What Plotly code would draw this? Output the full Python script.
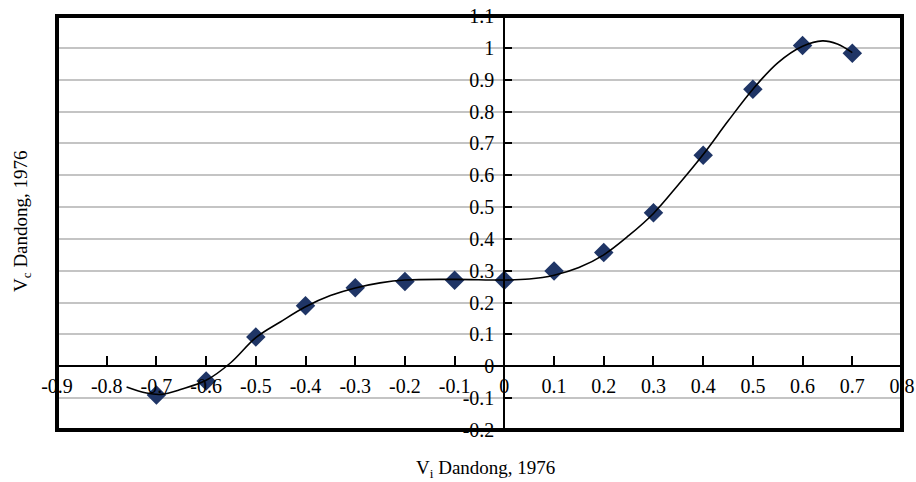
import plotly.graph_objects as go

# Measured points
point_x = [-0.7, -0.6, -0.5, -0.4, -0.3, -0.2, -0.1, 0.0, 0.1, 0.2, 0.3, 0.4, 0.5, 0.6, 0.7]
point_y = [-0.09, -0.046, 0.092, 0.19, 0.247, 0.266, 0.27, 0.27, 0.299, 0.357, 0.482, 0.663, 0.87, 1.007, 0.983]

# Trend curve
curve_x = [-0.76, -0.72, -0.69, -0.65, -0.60, -0.55, -0.50, -0.45, -0.40, -0.35, -0.30, -0.25, -0.20,
           -0.10, 0.00, 0.05, 0.10, 0.15, 0.20, 0.25, 0.30, 0.35, 0.40, 0.45, 0.50, 0.55, 0.60, 0.64, 0.67, 0.70]
curve_y = [-0.065, -0.084, -0.088, -0.072, -0.044, 0.012, 0.09, 0.14, 0.187, 0.222, 0.246, 0.262, 0.271,
           0.273, 0.271, 0.274, 0.286, 0.31, 0.35, 0.41, 0.48, 0.57, 0.665, 0.77, 0.87, 0.953, 1.005, 1.022, 1.012, 0.985]

x_tickvals = [-0.9, -0.8, -0.7, -0.6, -0.5, -0.4, -0.3, -0.2, -0.1, 0, 0.1, 0.2, 0.3, 0.4, 0.5, 0.6, 0.7, 0.8]
x_ticktext = ["-0.9", "-0.8", "-0.7", "-0.6", "-0.5", "-0.4", "-0.3", "-0.2", "-0.1", "0",
              "0.1", "0.2", "0.3", "0.4", "0.5", "0.6", "0.7", "0.8"]
y_tickvals = [-0.2, -0.1, 0, 0.1, 0.2, 0.3, 0.4, 0.5, 0.6, 0.7, 0.8, 0.9, 1.0, 1.1]
y_ticktext = ["-0.2", "-0.1", "0", "0.1", "0.2", "0.3", "0.4", "0.5", "0.6", "0.7", "0.8", "0.9", "1", "1.1"]

x_range = [-0.9, 0.8]
y_range = [-0.2, 1.1]

FONT = "Liberation Serif"

fig = go.Figure()
fig.add_trace(go.Scatter(
    x=point_x, y=point_y, mode="markers",
    marker=dict(symbol="diamond", size=15, color="#1f3566"),
    showlegend=False, hoverinfo="skip"))
fig.add_trace(go.Scatter(
    x=curve_x, y=curve_y, mode="lines",
    line=dict(color="black", width=1.6, shape="spline", smoothing=1.0),
    showlegend=False, hoverinfo="skip"))

fig.update_layout(
    width=916, height=482,
    margin=dict(l=57, r=14, t=16, b=52, autoexpand=False),
    paper_bgcolor="white", plot_bgcolor="white",
    font=dict(family=FONT, size=20, color="black"),
    xaxis=dict(
        range=x_range, domain=[0, 1], anchor="free", automargin=False,
        position=(0 - y_range[0]) / (y_range[1] - y_range[0]),
        tickvals=x_tickvals, ticktext=x_ticktext,
        showgrid=False, zeroline=False,
        showline=True, linecolor="black", linewidth=2,
        ticks="inside", ticklen=9, tickwidth=1.5, tickcolor="black",
        ticklabelstandoff=2,
        tickfont=dict(family=FONT, size=20),
    ),
    yaxis=dict(
        range=y_range, domain=[0, 1], anchor="free", automargin=False,
        position=(0 - x_range[0]) / (x_range[1] - x_range[0]),
        tickvals=y_tickvals, ticktext=y_ticktext,
        showgrid=True, gridcolor="#c4c4c4", gridwidth=1.5,
        zeroline=False,
        showline=True, linecolor="black", linewidth=2,
        ticks="inside", ticklen=7, tickwidth=1.5, tickcolor="black",
        ticklabelstandoff=5,
        tickfont=dict(family=FONT, size=20),
    ),
    shapes=[dict(type="rect", xref="paper", yref="paper", x0=0, y0=0, x1=1, y1=1,
                 line=dict(color="black", width=4), layer="above")],
    annotations=[
        dict(text="V<sub>i</sub> Dandong, 1976", xref="paper", yref="paper",
             x=(485 - 57) / 845, y=-0.095, xanchor="center", yanchor="middle",
             showarrow=False, font=dict(family=FONT, size=19)),
        dict(text="V<sub>c</sub> Dandong, 1976", xref="paper", yref="paper",
             x=(22 - 57) / 845, y=(430 - 221) / 414, xanchor="center", yanchor="middle",
             textangle=-90, showarrow=False, font=dict(family=FONT, size=19)),
    ],
)

fig.write_html("out.html")
